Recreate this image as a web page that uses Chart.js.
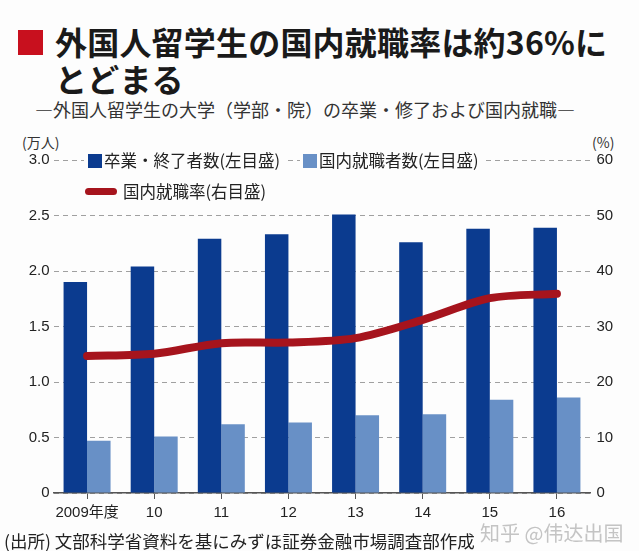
<!DOCTYPE html>
<html>
<head>
<meta charset="utf-8">
<script src="https://cdn.jsdelivr.net/npm/chart.js@4.4.0/dist/chart.umd.min.js"></script>
<style>
  body { margin: 0; width: 639px; height: 551px; overflow: hidden; background: #fdfdfd;
         font-family: "Noto Sans CJK JP", sans-serif; color: #1a1a1a; position: relative; }
  .abs { position: absolute; white-space: nowrap; }
  #redbox { left: 18px; top: 30px; width: 25px; height: 25px; background: #c8101e; }
  #title { left: 55px; top: 23px; font-size: 32px; font-weight: bold; line-height: 37px; letter-spacing: 0.2px; }
  #sub { left: 35px; top: 98px; font-size: 18px; line-height: 22px; color: #333; }
  #unitL { left: 22px; top: 132px; font-size: 14px; color: #333; }
  #unitR { left: 592px; top: 132px; font-size: 14px; color: #333; }
  #chartbox { left: 0; top: 140px; width: 639px; height: 390px; }
  .leg { font-size: 16.5px; background: #fdfdfd; color: #222; line-height: 20px; padding-right: 4px; }
  .sq { display: inline-block; width: 14px; height: 14px; vertical-align: -1px; margin-right: 2px; }
  .ln { display: inline-block; width: 32px; height: 7px; border-radius: 4px; vertical-align: 3px; margin-right: 6px; }
  #source { left: 4px; top: 528px; font-size: 17.5px; color: #222; }
  #mark { left: 480px; top: 518px; font-size: 20px; color: #c4c4c4; font-family: "Noto Sans CJK SC", sans-serif; }
</style>
</head>
<body>
<div class="abs" id="redbox"></div>
<div class="abs" id="title">外国人留学生の国内就職率は約36%に<br>とどまる</div>
<div class="abs" id="sub">―外国人留学生の大学（学部・院）の卒業・修了および国内就職―</div>
<div class="abs" id="unitL">(万人)</div>
<div class="abs" id="unitR">(%)</div>
<div class="abs" id="chartbox"><canvas id="myChart" width="639" height="390"></canvas></div>
<div class="abs leg" id="leg1" style="left:84px; top:150px; padding-left:4px;"></div>
<div class="abs leg" id="leg2" style="left:300px; top:150px; padding-left:3px;"></div>
<div class="abs leg" id="leg3" style="left:84px; top:181px; padding-left:1px;"></div>
<div class="abs" id="source">(出所) 文部科学省資料を基にみずほ証券金融市場調査部作成</div>
<div class="abs" id="mark">知乎 @伟达出国</div>
<script>
var categories = ['2009年度', '10', '11', '12', '13', '14', '15', '16']
var graduates = [1.90, 2.04, 2.29, 2.33, 2.51, 2.26, 2.38, 2.39]
var employed = [0.47, 0.51, 0.62, 0.635, 0.70, 0.71, 0.84, 0.86]
var rate = [24.7, 25.1, 27.0, 27.1, 27.9, 31.2, 35.1, 35.9]

var leftTicks = [0, 0.5, 1.0, 1.5, 2.0, 2.5, 3.0]
var rightTicks = [0, 10, 20, 30, 40, 50, 60]

var labels = ['卒業・終了者数(左目盛)', '国内就職者数(左目盛)', '国内就職率(右目盛)']

var darkBlue = '#0b3b8f'
var lightBlue = '#6890c6'
var red = '#a6141d'

document.getElementById('leg1').innerHTML = '<span class="sq" style="background:' + darkBlue + '"></span>' + labels[0]
document.getElementById('leg2').innerHTML = '<span class="sq" style="background:' + lightBlue + '"></span>' + labels[1]
document.getElementById('leg3').innerHTML = '<span class="ln" style="background:' + red + '"></span>' + labels[2]

var tickFont = { family: '"Liberation Sans", "Noto Sans CJK JP", sans-serif', size: 15 }

var ctx = document.getElementById('myChart').getContext('2d')
var chart = new Chart(ctx, {
  data: {
    labels: categories,
    datasets: [
      {
        type: 'line',
        label: labels[2],
        data: rate,
        yAxisID: 'y1',
        borderColor: red,
        borderWidth: 8,
        borderCapStyle: 'round',
        borderJoinStyle: 'round',
        pointRadius: 0,
        tension: 0.3,
        order: 0
      },
      {
        type: 'bar',
        label: labels[0],
        data: graduates,
        yAxisID: 'y',
        backgroundColor: darkBlue,
        categoryPercentage: 0.7,
        barPercentage: 1.0,
        order: 1
      },
      {
        type: 'bar',
        label: labels[1],
        data: employed,
        yAxisID: 'y',
        backgroundColor: lightBlue,
        categoryPercentage: 0.7,
        barPercentage: 1.0,
        order: 1
      }
    ]
  },
  options: {
    responsive: false,
    animation: false,
    layout: { padding: { top: 20, bottom: 0, left: 0, right: 0 } },
    plugins: { legend: { display: false }, tooltip: { enabled: false } },
    scales: {
      x: {
        offset: true,
        grid: { offset: false, drawOnChartArea: false, drawTicks: true, tickLength: 6, color: '#555' },
        border: { display: true, color: '#555', width: 1.5 },
        ticks: { color: '#222', font: tickFont, padding: 5, maxRotation: 0, autoSkip: false },
        afterFit: function (s) { s.height = 37 }
      },
      y: {
        position: 'left',
        min: 0, max: 3.0,
        afterBuildTicks: function (s) { s.ticks = leftTicks.map(function (v) { return { value: v } }) },
        grid: { color: '#a0a0a0', lineWidth: 1, drawTicks: false, borderDash: [5, 4] },
        border: { display: false, dash: [5, 4] },
        ticks: {
          color: '#222', font: tickFont, padding: 4,
          callback: function (v) { return v === 0 ? '0' : v.toFixed(1) }
        },
        afterFit: function (s) { s.width = 53.5 }
      },
      y1: {
        position: 'right',
        min: 0, max: 60,
        afterBuildTicks: function (s) { s.ticks = rightTicks.map(function (v) { return { value: v } }) },
        grid: { drawOnChartArea: false, drawTicks: false },
        border: { display: false },
        ticks: { color: '#222', font: tickFont, padding: 6 },
        afterFit: function (s) { s.width = 48.5 }
      }
    }
  }
})
</script>
</body>
</html>
